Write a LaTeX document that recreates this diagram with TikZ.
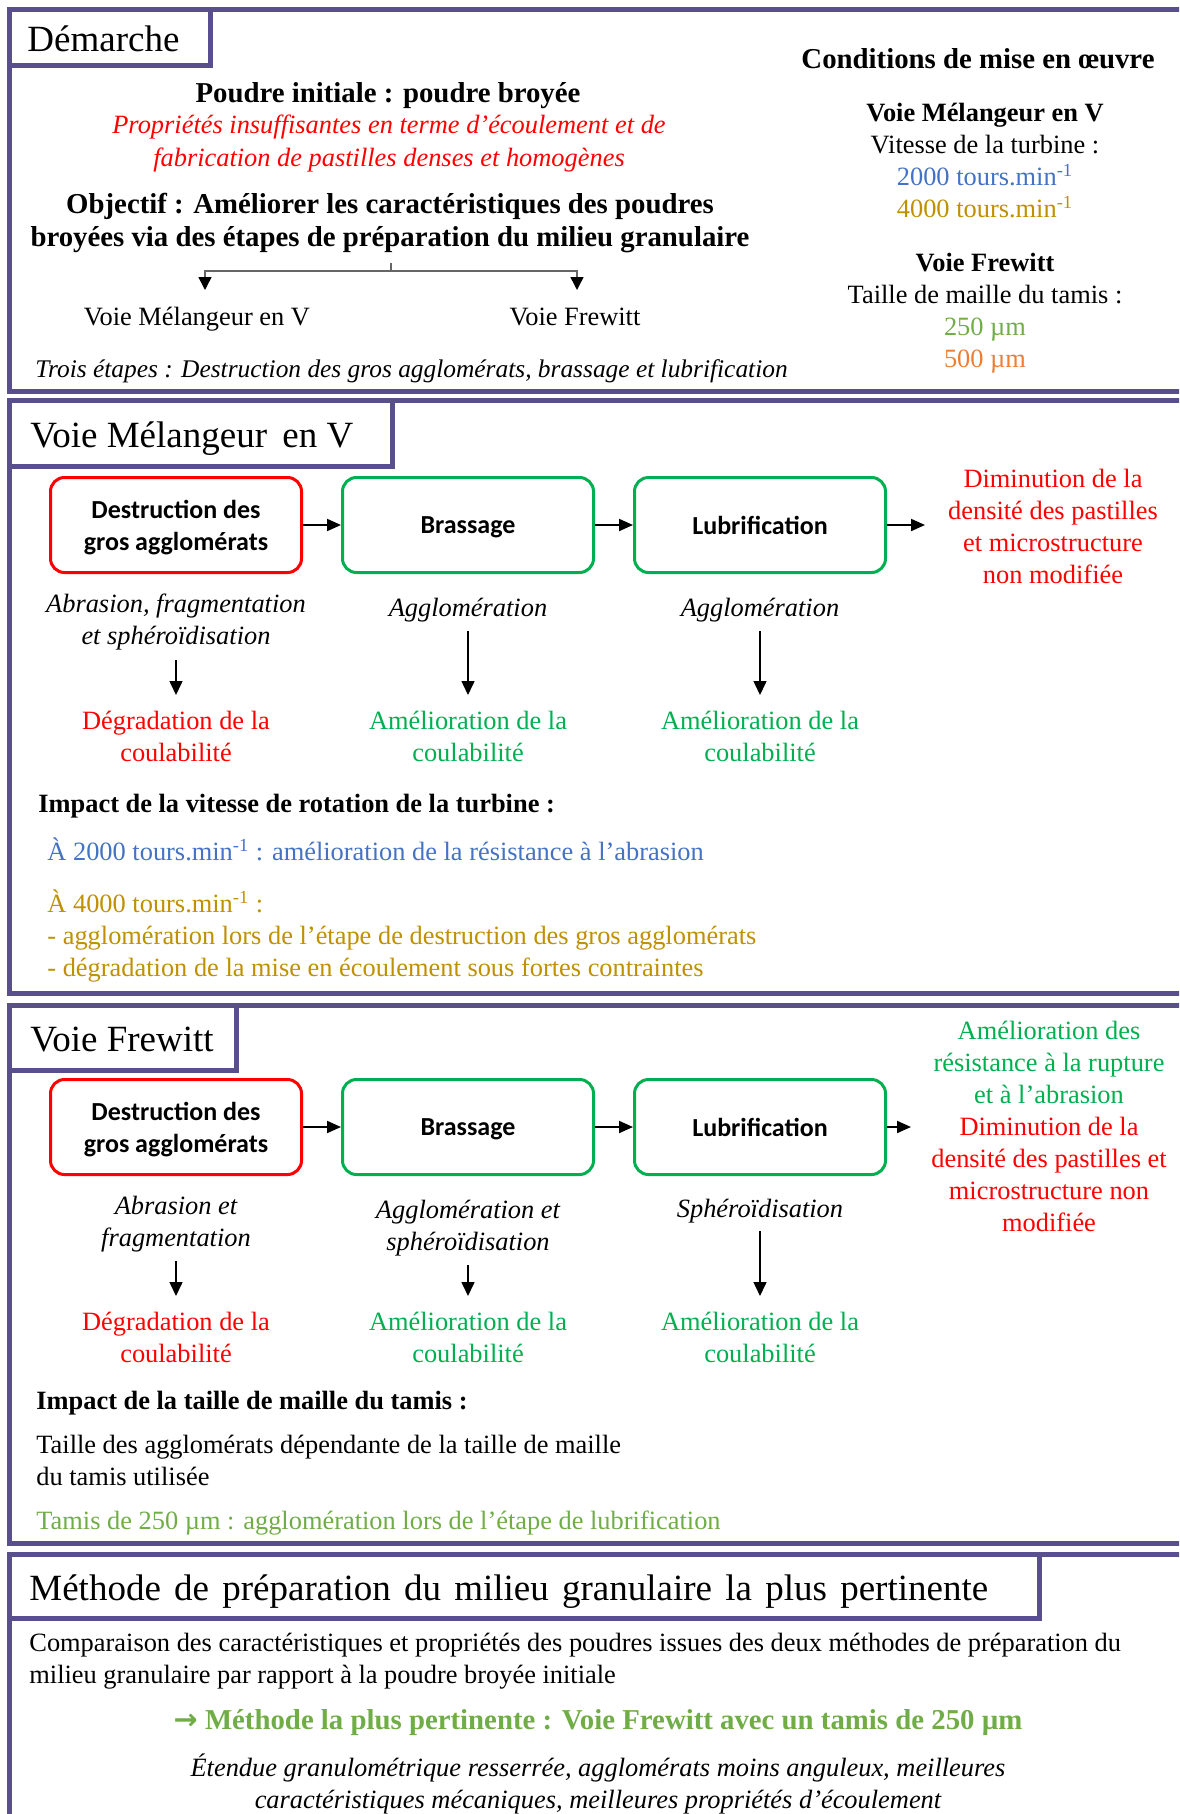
\documentclass[tikz,border=0pt]{standalone}
\usepackage{fontspec}
\setmainfont{Liberation Serif}
\newfontfamily\calibri{Carlito}
\newfontfamily\symfont{DejaVu Sans}
\usepackage{xcolor}
\usetikzlibrary{positioning, arrows.meta}

\definecolor{framec}{RGB}{89,79,140}
\definecolor{okgreen}{RGB}{0,176,80}
\definecolor{meshgreen}{RGB}{112,173,71}
\definecolor{speedblue}{RGB}{68,114,196}
\definecolor{speedgold}{RGB}{191,144,0}
\definecolor{meshorange}{RGB}{237,125,49}

\newcommand{\ttlsize}{\fontsize{18.5}{22}\selectfont}
\newcommand{\txtsize}{\fontsize{13.2}{16}\selectfont}
\newcommand{\bigsize}{\fontsize{14.4}{16.5}\selectfont}
\newcommand{\boxsize}{\calibri\bfseries\fontsize{13}{16}\selectfont}

\begin{document}
\begin{tikzpicture}[
    x=0.5pt, y=-0.5pt,
    frame/.style={draw=framec, line width=2.5pt},
    ttl/.style={anchor=base west, inner sep=0pt, font=\ttlsize},
    txt/.style={anchor=base, inner sep=0pt, align=center, font=\txtsize},
    ltxt/.style={anchor=base west, inner sep=0pt, align=left, font=\txtsize},
    stepbox/.style={rectangle, draw, rounded corners=7pt, line width=1.5pt, minimum width=125.5pt, minimum height=47.5pt, text depth=0pt, align=center, font=\boxsize},
    redbox/.style={stepbox, draw=red},
    greenbox/.style={stepbox, draw=okgreen},
    arr/.style={-{Triangle[length=7pt, width=6pt]}, line width=1pt},
    darr/.style={-{Triangle[length=7pt, width=6.5pt]}, line width=0.75pt},
    brarr/.style={-{Triangle[length=6.5pt, width=6.5pt, black]}, line width=0.75pt, draw=black!60},
]
\useasboundingbox (0,0) rectangle (1179,1814);
\clip (0,0) rectangle (1179,1814);

% --- Demarche ---
\draw[frame] (9.5,9.5) rectangle (1200,391.5);
\draw[frame] (9.5,65.5) -| (210,9.5);
\node[ttl] (t1) at (27,52) {Démarche};

\node[txt, font=\bigsize\bfseries] (init) at (388,103) {Poudre initiale : poudre broyée};
\node[txt, text=red, font=\fontsize{13.2}{16.2}\selectfont\itshape] (prop) at (389,166) {Propriétés insuffisantes en terme d’écoulement et de\\fabrication de pastilles denses et homogènes};
\node[txt, font=\bigsize\bfseries] (obj) at (390,246) {Objectif : Améliorer les caractéristiques des poudres\\broyées via des étapes de préparation du milieu granulaire};

\coordinate (brtop) at (391,263);
\coordinate (brmid) at (391,271);
\coordinate (brL) at (205,290);
\coordinate (brR) at (577,290);
\draw[line width=0.75pt, black!60] (brtop) -- (brmid);
\draw[brarr] (brmid) -| (brL);
\draw[brarr] (brmid) -| (brR);
\node[txt] (voieV) at (197,325) {Voie Mélangeur en V};
\node[txt] (voieF) at (575,325) {Voie Frewitt};
\node[ltxt, font=\fontsize{12.7}{16}\selectfont\itshape] (trois) at (35,377) {Trois étapes : Destruction des gros agglomérats, brassage et lubrification};

\node[txt, font=\bigsize\bfseries] (cond) at (978,69) {Conditions de mise en œuvre};
\node[txt, font=\txtsize\bfseries] (cV) at (985,121) {Voie Mélangeur en V};
\node[txt] (cVit) at (985,154) {Vitesse de la turbine :};
\node[txt, text=speedblue] (c2000) at (985,185) {2000 tours.min\textsuperscript{-1}};
\node[txt, text=speedgold] (c4000) at (985,217) {4000 tours.min\textsuperscript{-1}};
\node[txt, font=\txtsize\bfseries] (cF) at (985,271) {Voie Frewitt};
\node[txt] (cTam) at (985,303) {Taille de maille du tamis :};
\node[txt, text=meshgreen] (c250) at (985,335) {250 µm};
\node[txt, text=meshorange] (c500) at (985,367) {500 µm};

% --- Voie Melangeur en V ---
\draw[frame] (9.5,400.5) rectangle (1200,993.5);
\draw[frame] (9.5,466.5) -| (392,400.5);
\node[ttl] (t2) at (30,447) {Voie Mélangeur\, en V};

\node[redbox] (vd) at (176,525) {Destruction des\\gros agglomérats};
\node[greenbox, right=19pt of vd] (vb) {Brassage};
\node[greenbox, right=19pt of vb] (vl) {Lubrification};
\coordinate (vout) at (925,525);
\draw[arr] (vd) -- (vb);
\draw[arr] (vb) -- (vl);
\draw[arr] (vl) -- (vout);
\node[txt, text=red] (vres) at (1053,583) {Diminution de la\\densité des pastilles\\et microstructure\\non modifiée};

\node[txt, font=\txtsize\itshape] (vd1) at (176,644) {Abrasion, fragmentation\\et sphéroïdisation};
\node[txt, font=\txtsize\itshape] (vb1) at (468,616) {Agglomération};
\node[txt, font=\txtsize\itshape] (vl1) at (760,616) {Agglomération};
\coordinate (vd1s) at (176,660);
\coordinate (vd1e) at (176,695);
\coordinate (vb1s) at (468,631);
\coordinate (vb1e) at (468,695);
\coordinate (vl1s) at (760,631);
\coordinate (vl1e) at (760,695);
\draw[darr] (vd1s) -- (vd1e);
\draw[darr] (vb1s) -- (vb1e);
\draw[darr] (vl1s) -- (vl1e);
\node[txt, text=red] (vd2) at (176,761) {Dégradation de la\\coulabilité};
\node[txt, text=okgreen] (vb2) at (468,761) {Amélioration de la\\coulabilité};
\node[txt, text=okgreen] (vl2) at (760,761) {Amélioration de la\\coulabilité};

\node[ltxt, font=\txtsize\bfseries] (vimp) at (38,812) {Impact de la vitesse de rotation de la turbine :};
\node[ltxt, text=speedblue] (v2000) at (47,860) {À 2000 tours.min\textsuperscript{-1} : amélioration de la résistance à l’abrasion};
\node[ltxt, text=speedgold] (v4000) at (47,976) {À 4000 tours.min\textsuperscript{-1} :\\- agglomération lors de l’étape de destruction des gros agglomérats\\- dégradation de la mise en écoulement sous fortes contraintes};

% --- Voie Frewitt ---
\draw[frame] (9.5,1005.5) rectangle (1200,1543);
\draw[frame] (9.5,1070) -| (236,1005.5);
\node[ttl] (t3) at (30,1051) {Voie Frewitt};

\node[redbox] (fd) at (176,1127) {Destruction des\\gros agglomérats};
\node[greenbox, right=19pt of fd] (fb) {Brassage};
\node[greenbox, right=19pt of fb] (fl) {Lubrification};
\coordinate (fout) at (911,1127);
\draw[arr] (fd) -- (fb);
\draw[arr] (fb) -- (fl);
\draw[arr] (fl) -- (fout);
\node[txt, text=okgreen] (fres1) at (1049,1103) {Amélioration des\\résistance à la rupture\\et à l’abrasion};
\node[txt, text=red] (fres2) at (1049,1231) {Diminution de la\\densité des pastilles et\\microstructure non\\modifiée};

\node[txt, font=\txtsize\itshape] (fd1) at (176,1246) {Abrasion et\\fragmentation};
\node[txt, font=\txtsize\itshape] (fb1) at (468,1250) {Agglomération et\\sphéroïdisation};
\node[txt, font=\txtsize\itshape] (fl1) at (760,1217) {Sphéroïdisation};
\coordinate (fd1s) at (176,1261);
\coordinate (fd1e) at (176,1296);
\coordinate (fb1s) at (468,1265);
\coordinate (fb1e) at (468,1296);
\coordinate (fl1s) at (760,1231);
\coordinate (fl1e) at (760,1296);
\draw[darr] (fd1s) -- (fd1e);
\draw[darr] (fb1s) -- (fb1e);
\draw[darr] (fl1s) -- (fl1e);
\node[txt, text=red] (fd2) at (176,1362) {Dégradation de la\\coulabilité};
\node[txt, text=okgreen] (fb2) at (468,1362) {Amélioration de la\\coulabilité};
\node[txt, text=okgreen] (fl2) at (760,1362) {Amélioration de la\\coulabilité};

\node[ltxt, font=\txtsize\bfseries] (fimp) at (36,1409) {Impact de la taille de maille du tamis :};
\node[ltxt] (ftai) at (36,1485) {Taille des agglomérats dépendante de la taille de maille\\du tamis utilisée};
\node[ltxt, text=meshgreen] (f250) at (36,1529) {Tamis de 250 µm : agglomération lors de l’étape de lubrification};

% --- Methode la plus pertinente ---
\draw[frame] (9.5,1554.5) rectangle (1200,1850);
\draw[frame] (9.5,1618) -| (1039,1554.5);
\node[ttl] (t4) at (29,1600) {Méthode\hspace{2pt} de\hspace{2pt} préparation\hspace{2pt} du\hspace{2pt} milieu\hspace{2pt} granulaire\hspace{2pt} la\hspace{2pt} plus\hspace{2pt} pertinente};

\node[ltxt] (comp) at (29,1683) {Comparaison des caractéristiques et propriétés des poudres issues des deux méthodes de préparation du\\milieu granulaire par rapport à la poudre broyée initiale};
\node[txt, text=meshgreen, font=\bigsize\bfseries] (best) at (598,1729) {{\symfont\bfseries →} Méthode la plus pertinente : Voie Frewitt avec un tamis de 250 µm};
\node[txt, font=\txtsize\itshape] (why) at (598,1808) {Étendue granulométrique resserrée, agglomérats moins anguleux, meilleures\\caractéristiques mécaniques, meilleures propriétés d’écoulement};

\end{tikzpicture}
\end{document}
